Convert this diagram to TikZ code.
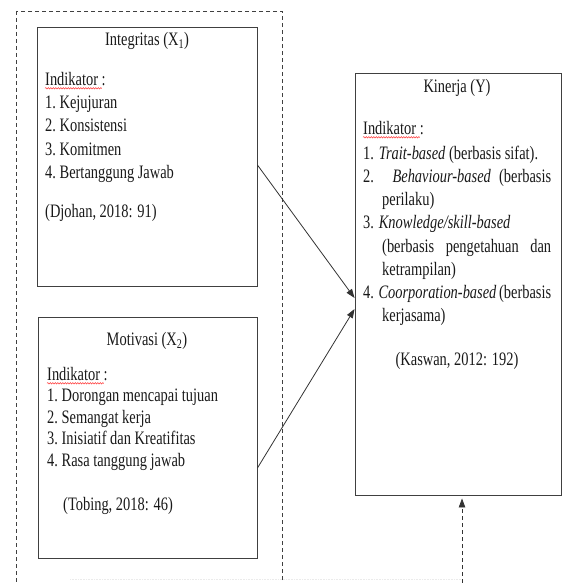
\documentclass[tikz,border=0pt]{standalone}
\usepackage{fontspec}
\setmainfont{Liberation Serif}[FakeStretch=0.76]
\usetikzlibrary{arrows.meta,decorations.pathmorphing}

\tikzset{
  box/.style={draw=black!75, line width=0.9pt, inner sep=0pt},
  frame/.style={draw=black!75, line width=0.7pt, dash pattern=on 4pt off 3pt},
  txt/.style={anchor=mid west, inner sep=0pt, text=black!90, font=\fontsize{19}{23}\selectfont},
  ttl/.style={txt, anchor=mid},
  link/.style={draw=black!80, line width=0.8pt, -{Triangle[length=9pt,width=6.5pt]}},
  spell/.style={draw=red!80, line width=0.5pt, decorate,
    decoration={snake, amplitude=0.7pt, segment length=2.5pt}},
}

\begin{document}
\begin{tikzpicture}[x=1pt,y=-1pt]
  \useasboundingbox (0,0) rectangle (563,583);
  \clip (0,0) rectangle (563,583);

  % grouping frame
  \draw[frame] (16,11) rectangle (282,600);
  \draw[draw=black!8, densely dotted, line width=0.6pt] (70,579) -- (462,579);

  % Integritas
  \node[box, minimum width=220pt, minimum height=259pt] (integ) at (147,156.5) {};
  \node[ttl] (integT) at (147,43) {Integritas (X\textsubscript{1})};
  \node[txt] (indA) at (45,83) {Indikator :};
  \draw[spell] ([yshift=-3pt]indA.base west) -- ([xshift=-4pt,yshift=-3pt]indA.base east);
  \foreach \t [count=\i] in {Kejujuran, Konsistensi, Komitmen, Bertanggung Jawab}
    \node[txt] (intg\i) at (45,83+23.3*\i) {\i.\ \t};
  \node[txt] (srcA) at (45,215) {(Djohan, 2018: 91)};

  % Motivasi
  \node[box, minimum width=219pt, minimum height=241pt] (motiv) at (147.5,437.5) {};
  \node[ttl] (motivT) at (147,343) {Motivasi (X\textsubscript{2})};
  \node[txt] (indB) at (47,378) {Indikator :};
  \draw[spell] ([yshift=-3pt]indB.base west) -- ([xshift=-4pt,yshift=-3pt]indB.base east);
  \foreach \t [count=\i] in {Dorongan mencapai tujuan, Semangat kerja,
      Inisiatif dan Kreatifitas, Rasa tanggung jawab}
    \node[txt] (motv\i) at (47,378+21.5*\i) {\i.\ \t};
  \node[txt] (srcB) at (63,508) {(Tobing, 2018: 46)};

  % Kinerja
  \node[box, minimum width=206pt, minimum height=422pt] (kin) at (458,284) {};
  \node[ttl] (kinT) at (457,90) {Kinerja (Y)};
  \node[txt] (indC) at (363,132) {Indikator :};
  \draw[spell] ([yshift=-3pt]indC.base west) -- ([xshift=-4pt,yshift=-3pt]indC.base east);
  \node[txt] (kin1) at (363,157) {1. \textit{Trait-based} (berbasis sifat).};
  \node[txt] (kin2) at (363,180) {\makebox[188pt][s]{2. \textit{Behaviour-based} (berbasis}};
  \node[txt] (kin2b) at (382,203) {perilaku)};
  \node[txt] (kin3) at (363,226) {3. \textit{Knowledge/skill-based}};
  \node[txt] (kin3b) at (382,250) {\makebox[169pt][s]{(berbasis pengetahuan dan}};
  \node[txt] (kin3c) at (382,273) {ketrampilan)};
  \node[txt] (kin4) at (363,296) {\makebox[188pt][s]{4. \textit{Coorporation-based} (berbasis}};
  \node[txt] (kin4b) at (382,319) {kerjasama)};
  \node[ttl] (srcC) at (457,363) {(Kaswan, 2012: 192)};

  % connectors
  \coordinate (bot) at (462,583);
  \draw[link] ([yshift=-8.5pt]integ.east) -- ([yshift=-14pt]kin.west);
  \draw[link] ([yshift=-30.5pt]motiv.east) -- ([yshift=-25pt]kin.west);
  \draw[link, dash pattern=on 4pt off 3pt, shorten >=3pt] (bot) -- ([xshift=4pt]kin.south);
\end{tikzpicture}
\end{document}
